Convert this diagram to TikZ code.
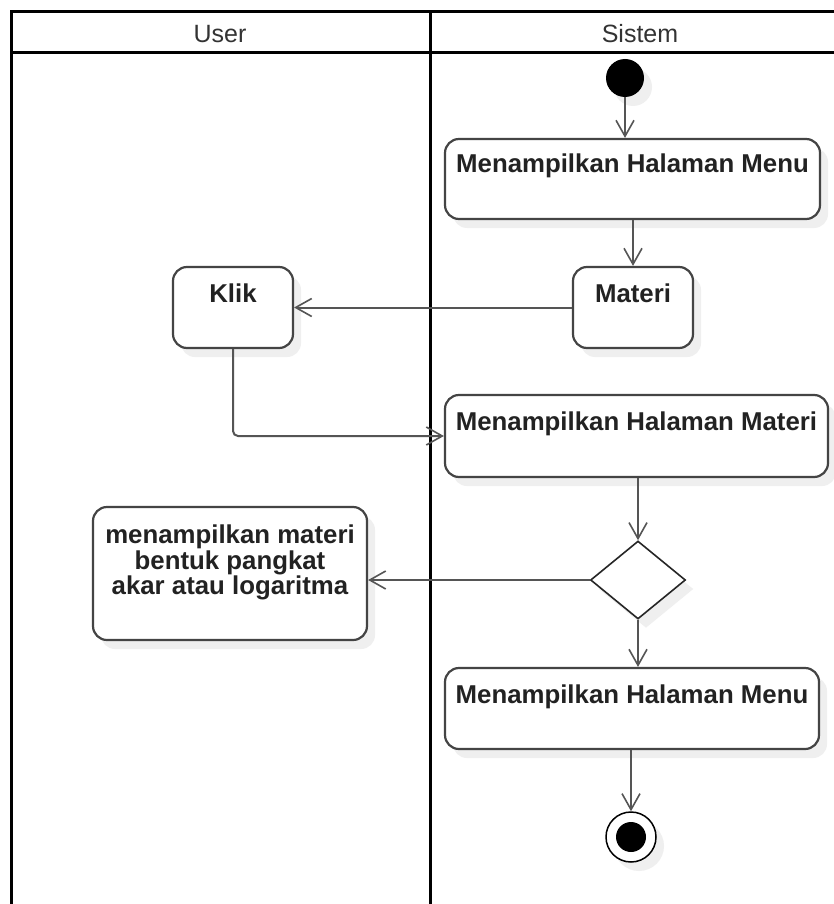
\documentclass[tikz,border=0pt]{standalone}
\usepackage{fontspec}
\setmainfont{Liberation Sans}
\usetikzlibrary{arrows.meta,shapes.geometric,shadows}
\definecolor{edge}{HTML}{555555}
\definecolor{boxline}{HTML}{444444}
\definecolor{txtc}{HTML}{222222}
\tikzset{
  lane/.style={draw=black, line width=3pt},
  shad/.style={drop shadow={shadow xshift=8pt, shadow yshift=-9pt, fill=black!10, opacity=0.6}},
  act/.style={draw=boxline, line width=2.2pt, rounded corners=14pt, fill=white, shad, inner sep=0pt},
  lbl/.style={font=\fontsize{25.8}{25.5}\selectfont\bfseries, text=txtc, inner sep=0pt},
  head/.style={font=\fontsize{25}{25}\selectfont, text=black!80, inner sep=0pt, anchor=base},
  conn/.style={draw=edge, line width=2pt, -{Straight Barb[length=16pt,width=18pt,line width=1.6pt]}},
}
\begin{document}
\begin{tikzpicture}[x=1pt,y=-1pt]
\useasboundingbox (0,0) rectangle (833,904);
\fill[white] (0,0) rectangle (833,904);
% swimlanes
\draw[lane] (11,925) -- (11,12) -- (860,12);
\draw[lane] (11,53) -- (860,53);
\draw[lane] (430,12) -- (430,925);
\node[head] (hu) at (220,43) {User};
\node[head] (hs) at (640,43) {Sistem};
% nodes
\node[circle, fill=black, minimum size=38pt, inner sep=0pt, shad] (start) at (625,78) {};
\node[act, minimum width=375pt, minimum height=80pt] (b1) at (632.5,179) {};
\node[lbl, anchor=base] (t1) at (632.5,173) {Menampilkan Halaman Menu};
\node[act, minimum width=120pt, minimum height=81pt] (mat) at (633,307.5) {};
\node[lbl, anchor=base] (tm) at (633,302) {Materi};
\node[act, minimum width=120pt, minimum height=81pt] (klik) at (233,307.5) {};
\node[lbl, anchor=base] (tk) at (233,302) {Klik};
\node[act, minimum width=383pt, minimum height=82pt] (b3) at (636.5,436) {};
\node[lbl, anchor=base] (t3) at (636.5,430) {Menampilkan Halaman Materi};
\node[diamond, draw=black!85, line width=1.6pt, fill=white, shad, inner sep=0pt,
      minimum width=95pt, minimum height=78pt] (dia) at (638,580) {};
\node[act, minimum width=274pt, minimum height=133pt] (bl) at (230,573.5) {};
\node[lbl, anchor=north, align=center] (tl) at (230,525) {menampilkan materi\\bentuk pangkat\\akar atau logaritma};
\node[act, minimum width=374pt, minimum height=81pt] (b5) at (632,708.5) {};
\node[lbl, anchor=base] (t5) at (632,703) {Menampilkan Halaman Menu};
\node[circle, draw=black, line width=1.5pt, fill=white, minimum size=50pt, inner sep=0pt, shad] (end) at (631,837) {};
\node[circle, fill=black, minimum size=30pt, inner sep=0pt] (endin) at (end) {};
% connectors
\draw[conn] (start) -- (start |- b1.north);
\draw[conn] (mat |- b1.south) -- (mat.north);
\draw[conn] (mat.west) -- (klik.east);
\draw[conn, rounded corners=5pt] (klik.south) -- (klik.south |- b3.west) -- (b3.west);
\draw[conn] (dia.north |- b3.south) -- (dia.north);
\draw[conn] (dia.west) -- (dia.west -| bl.east);
\draw[conn] (dia.south) -- (dia.south |- b5.north);
\draw[conn] (end |- b5.south) -- (end.north);
\end{tikzpicture}
\end{document}
